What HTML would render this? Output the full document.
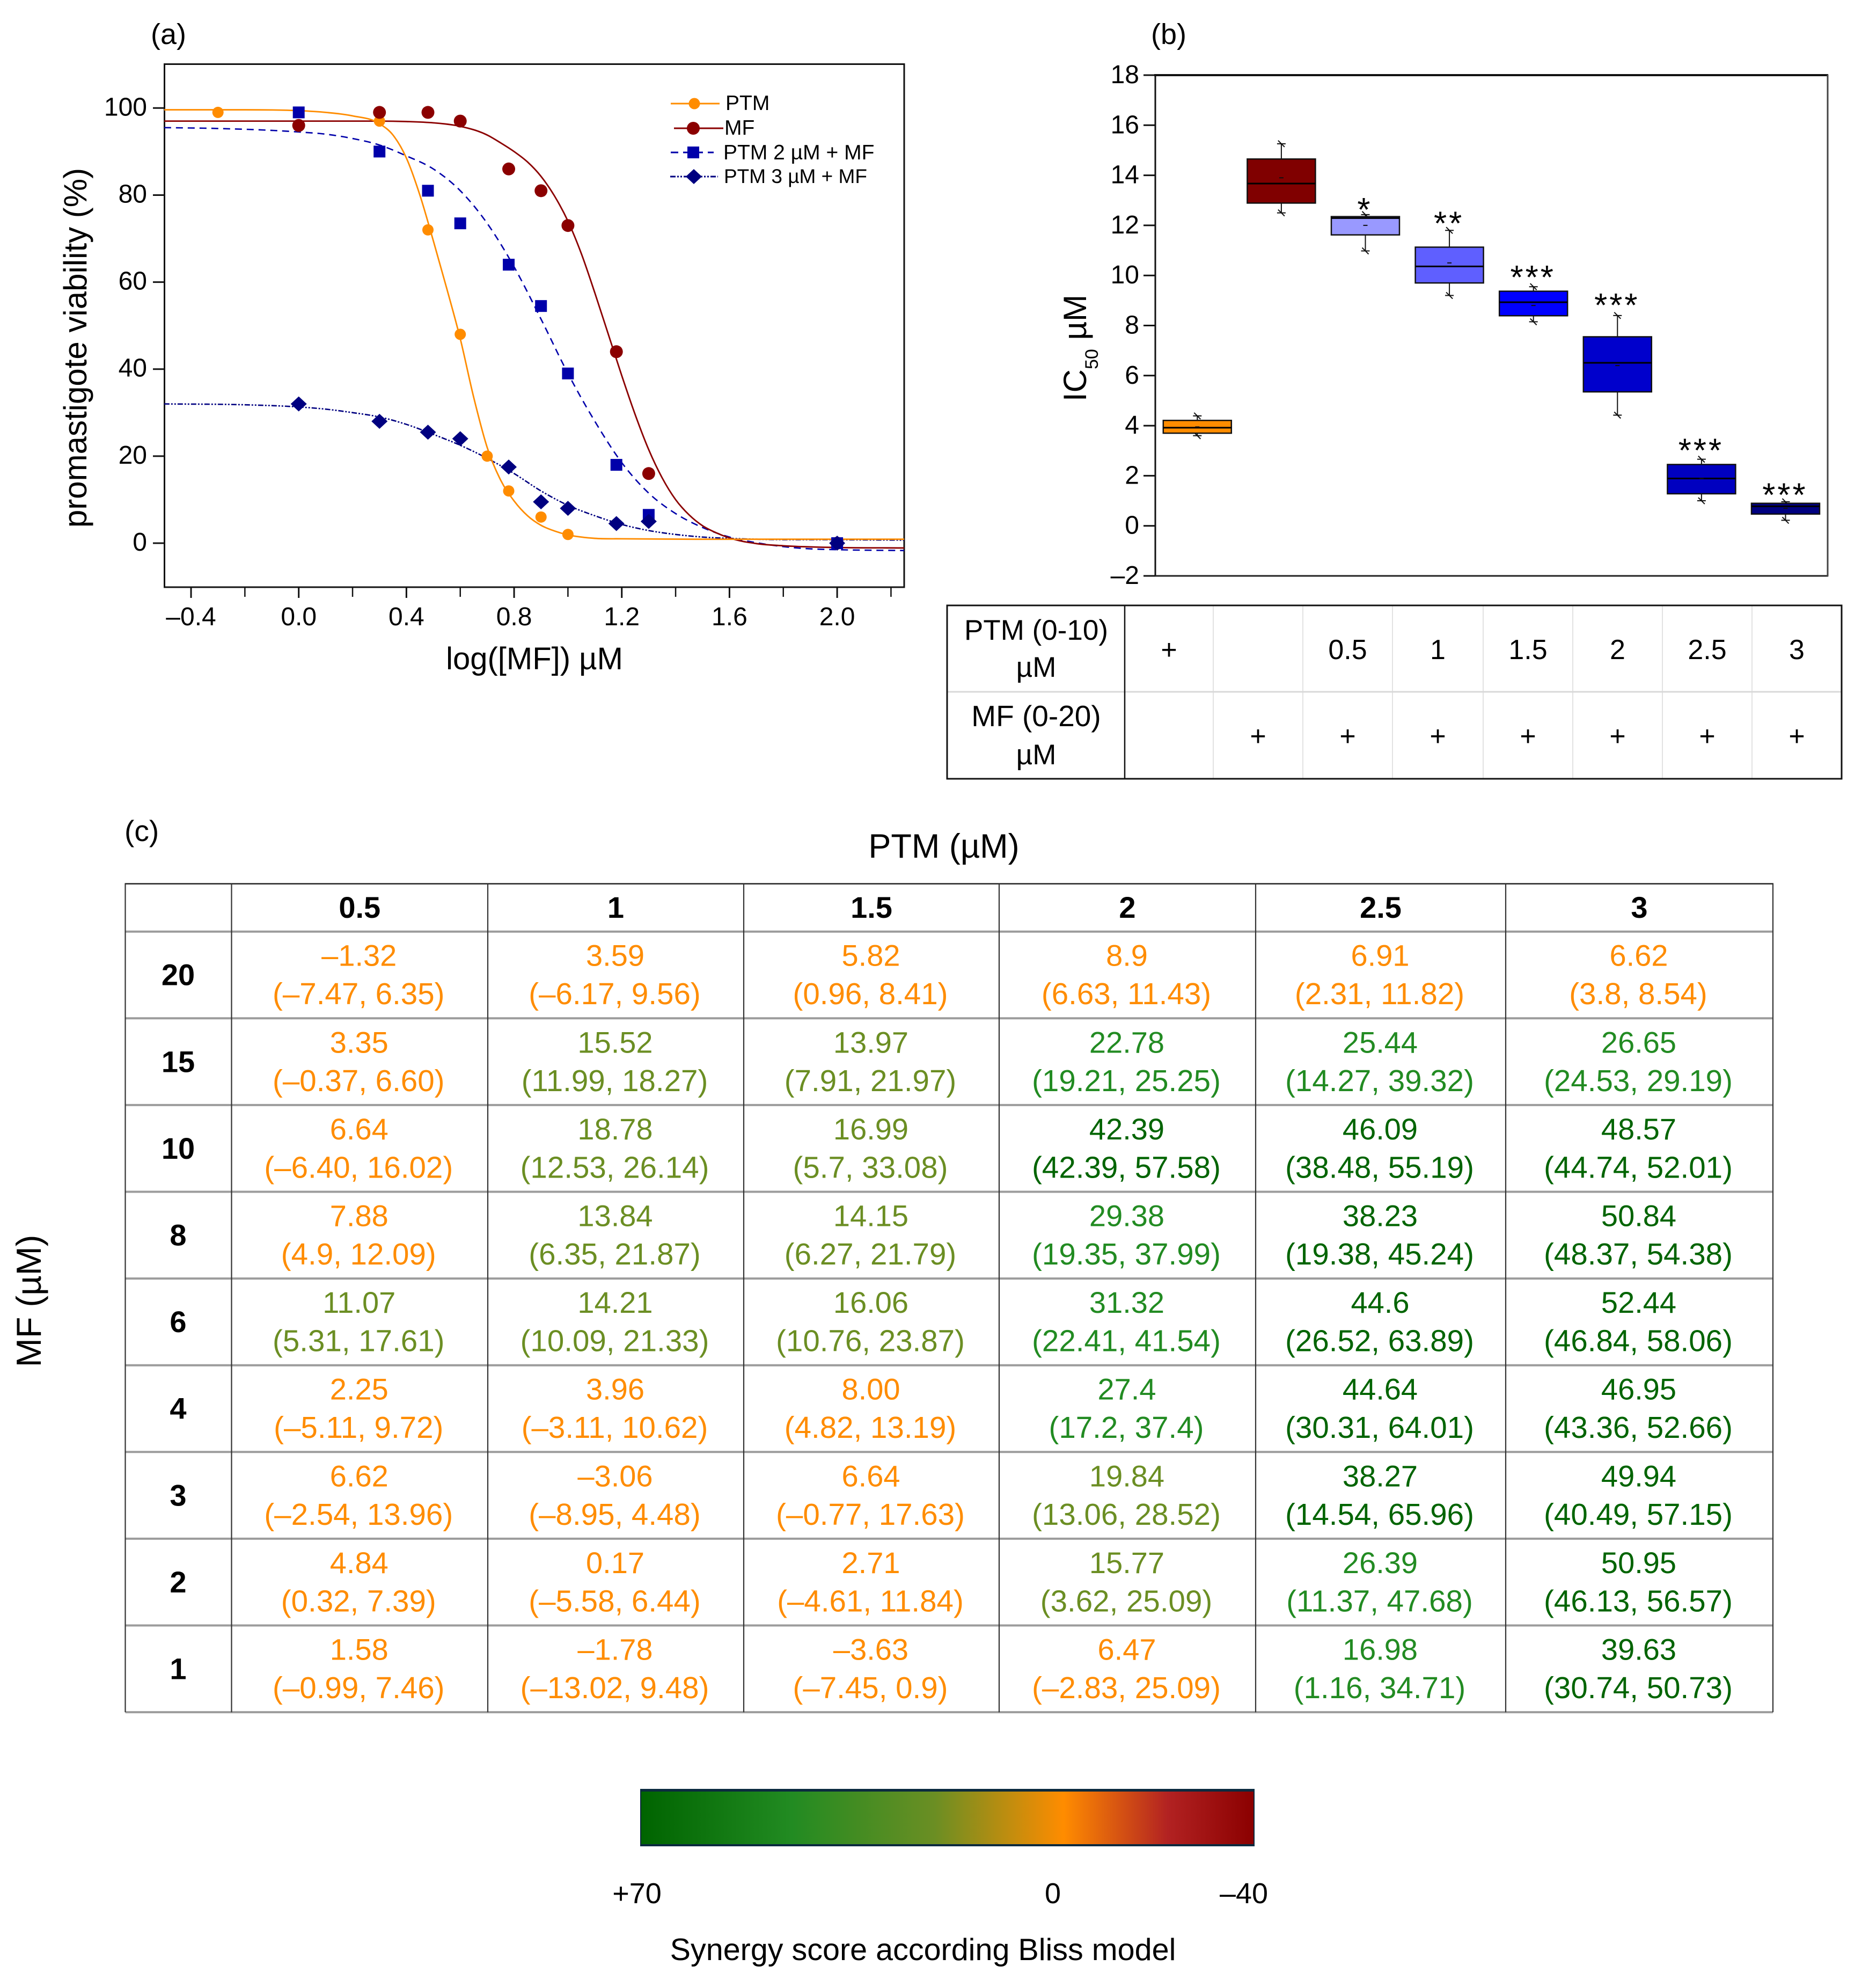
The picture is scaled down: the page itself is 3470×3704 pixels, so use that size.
<!DOCTYPE html>
<html lang="en">
<head>
<meta charset="utf-8">
<title>PTM and MF viability, IC50 and synergy</title>
<style>
html,body{margin:0;padding:0;background:#fff}
svg{display:block}
text{font-family:"Liberation Sans",Arial,sans-serif;fill:#000}
</style>
</head>
<body>
<svg id="fig" xmlns="http://www.w3.org/2000/svg" width="3470" height="3704" viewBox="0 0 3470 3704">
  <defs>
    <clipPath id="clip-a"><rect x="306" y="119" width="1379" height="975"/></clipPath>
    <linearGradient id="bliss-gradient" x1="0" x2="1" y1="0" y2="0">
      <stop offset="0" stop-color="#006400"/>
      <stop offset="0.246" stop-color="#228b22"/>
      <stop offset="0.48" stop-color="#6b8e23"/>
      <stop offset="0.69" stop-color="#ff8c00"/>
      <stop offset="0.86" stop-color="#b22222"/>
      <stop offset="1" stop-color="#8b0000"/>
    </linearGradient>
  </defs>
  <rect x="0" y="0" width="3470" height="3704" fill="#fff"/>

  <g id="panel-a">
    <text x="281" y="82" font-size="54">(a)</text>
    <rect x="306.5" y="119.5" width="1378.5" height="974.5" fill="none" stroke="#111" stroke-width="3"/>
    <text transform="translate(161,648) rotate(-90)" text-anchor="middle" font-size="60">promastigote viability (%)</text>
    <text x="996" y="1247" text-anchor="middle" font-size="58">log([MF]) µM</text>
    <g id="a-ticks"></g>
    <g id="a-curves" clip-path="url(#clip-a)"></g>
    <g id="a-points"></g>
    <g>
      <g>
        <line x1="1250" x2="1341" y1="193" y2="193" stroke="#ff8c00" stroke-width="3"/>
        <circle cx="1294" cy="193" r="10.5" fill="#ff8c00"/>
        <text x="1352" y="205" font-size="39">PTM</text>
      </g>
      <g>
        <line x1="1256" x2="1348" y1="239" y2="239" stroke="#8b0000" stroke-width="3"/>
        <circle cx="1292" cy="239" r="12" fill="#8b0000"/>
        <text x="1350" y="251" font-size="39">MF</text>
      </g>
      <g>
        <line x1="1250" x2="1330" y1="284" y2="284" stroke="#0000aa" stroke-width="3" stroke-dasharray="14 9"/>
        <rect x="1281" y="273" width="22" height="22" fill="#0000aa"/>
        <text x="1348" y="297" font-size="39">PTM 2 µM + MF</text>
      </g>
      <g>
        <line x1="1249" x2="1338" y1="329" y2="329" stroke="#000080" stroke-width="3" stroke-dasharray="10 3 3 3 3 3"/>
        <polygon points="1293,315 1308,329 1293,343 1278,329" fill="#000080"/>
        <text x="1349" y="341" font-size="37">PTM 3 µM + MF</text>
      </g>
    </g>
  </g>

  <g id="panel-b">
    <text x="2145" y="82" font-size="54">(b)</text>
    <line x1="2153" x2="2153" y1="139" y2="1074" stroke="#111" stroke-width="3"/>
    <line x1="2151" x2="3407" y1="140" y2="140" stroke="#111" stroke-width="4"/>
    <line x1="2151" x2="3407" y1="1073" y2="1073" stroke="#222" stroke-width="3"/>
    <line x1="3406" x2="3406" y1="139" y2="1074" stroke="#444" stroke-width="3"/>
    <text transform="translate(2024,748) rotate(-90)" font-size="60">IC<tspan font-size="34" dy="22">50</tspan><tspan dy="-22"> µM</tspan></text>
    <g id="b-ticks"></g>
    <g id="b-boxes"></g>
  </g>

  <g id="dose-table"></g>

  <g id="panel-c">
    <text x="232" y="1567" font-size="55">(c)</text>
    <text x="1759" y="1598" text-anchor="middle" font-size="63">PTM (µM)</text>
    <text transform="translate(76,2424) rotate(-90)" text-anchor="middle" font-size="65">MF (µM)</text>
    <g id="c-table"></g>
  </g>

  <g>
    <rect x="1193" y="3333" width="1145" height="107" fill="#0b2a3f"/>
    <rect x="1195" y="3338" width="1141" height="98" fill="url(#bliss-gradient)"/>
    <text x="1187" y="3546" text-anchor="middle" font-size="54">+70</text>
    <text x="1962" y="3546" text-anchor="middle" font-size="54">0</text>
    <text x="2318" y="3546" text-anchor="middle" font-size="54">–40</text>
    <text x="1720" y="3652" text-anchor="middle" font-size="57.5">Synergy score according Bliss model</text>
  </g>
</svg>

<script>
// ---------- Panel (a) data ----------
const aTickLabelsX = ['–0.4', '0.0', '0.4', '0.8', '1.2', '1.6', '2.0'];
const aTickValuesX = [-0.4, 0, 0.4, 0.8, 1.2, 1.6, 2.0];
const aMinorTicksX = [-0.2, 0.2, 0.6, 1.0, 1.4, 1.8, 2.2];
const aTickValuesY = [0, 20, 40, 60, 80, 100];

const ptmPointX = [-0.3, 0.3, 0.48, 0.6, 0.7, 0.78, 0.9, 1.0];
const ptmPointY = [99, 97, 72, 48, 20, 12, 6, 2];
const mfPointX = [0, 0.3, 0.48, 0.6, 0.78, 0.9, 1.0, 1.18, 1.3, 2.0];
const mfPointY = [96, 99, 99, 97, 86, 81, 73, 44, 16, 0];
const ptm2PointX = [0, 0.3, 0.48, 0.6, 0.78, 0.9, 1.0, 1.18, 1.3, 2.0];
const ptm2PointY = [99, 90, 81, 73.5, 64, 54.5, 39, 18, 6.5, 0];
const ptm3PointX = [0, 0.3, 0.48, 0.6, 0.78, 0.9, 1.0, 1.18, 1.3, 2.0];
const ptm3PointY = [32, 28, 25.5, 24, 17.5, 9.5, 8, 4.5, 5, 0];

const ptmCurveX = [-0.5, -0.2, 0, 0.1, 0.2, 0.3, 0.35, 0.4, 0.45, 0.5, 0.55, 0.6, 0.65, 0.7, 0.75, 0.8, 0.85, 0.9, 0.95, 1.0, 1.05, 1.1, 1.2, 1.5, 2.25];
const ptmCurveY = [99.6, 99.6, 99.4, 99, 98.2, 96.4, 93.8, 88.5, 80, 69.5, 58.5, 47, 33.5, 22, 14.5, 9.7, 6.3, 4.1, 2.8, 1.9, 1.4, 1.1, 1, 0.9, 0.9];
const mfCurveX = [-0.5, 0.3, 0.4, 0.5, 0.6, 0.7, 0.75, 0.8, 0.85, 0.9, 0.95, 1.0, 1.05, 1.1, 1.15, 1.2, 1.25, 1.3, 1.35, 1.4, 1.45, 1.5, 1.55, 1.6, 1.7, 1.8, 2.0, 2.25];
const mfCurveY = [97, 97, 96.9, 96.6, 95.8, 93.8, 92, 90, 87.6, 84.3, 79.8, 74, 66.5, 57.5, 48, 38.5, 29.5, 21.5, 15, 10, 6.5, 4, 2.4, 1.2, -0.1, -0.6, -1, -1.1];
const ptm2CurveX = [-0.5, -0.3, 0, 0.1, 0.2, 0.3, 0.4, 0.5, 0.6, 0.7, 0.8, 0.9, 1.0, 1.1, 1.2, 1.3, 1.4, 1.5, 1.6, 1.7, 1.8, 1.9, 2.0, 2.25];
const ptm2CurveY = [95.5, 95.3, 94.5, 94, 93, 91.5, 89, 86, 81, 73.5, 63.5, 51.5, 39, 28, 18.5, 11.5, 6.8, 3.6, 1.4, 0.1, -0.8, -1.3, -1.5, -1.7];
const ptm3CurveX = [-0.5, -0.2, 0, 0.1, 0.2, 0.3, 0.4, 0.5, 0.6, 0.7, 0.8, 0.9, 1.0, 1.1, 1.2, 1.3, 1.4, 1.5, 1.6, 1.7, 2.0, 2.25];
const ptm3CurveY = [32, 31.8, 31.3, 30.8, 30, 29, 27.3, 25, 22.5, 19.5, 16, 12, 8.7, 6.3, 4.3, 2.9, 2, 1.4, 1.1, 0.9, 0.8, 0.7];

// ---------- Panel (b) data ----------
const bTickValues = [-2, 0, 2, 4, 6, 8, 10, 12, 14, 16, 18];
const bTickLabels = ['–2', '0', '2', '4', '6', '8', '10', '12', '14', '16', '18'];
const boxNames = ['ptm', 'mf', 'ptm-0-5-mf', 'ptm-1-mf', 'ptm-1-5-mf', 'ptm-2-mf', 'ptm-2-5-mf', 'ptm-3-mf'];
const boxLow = [3.6, 12.5, 10.98, 9.2, 8.15, 4.42, 1.0, 0.22];
const boxQ1 = [3.7, 12.89, 11.62, 9.7, 8.39, 5.35, 1.28, 0.47];
const boxMedian = [3.92, 13.67, 12.29, 10.36, 8.93, 6.51, 1.89, 0.78];
const boxMean = [3.95, 13.9, 12.0, 10.5, 8.8, 6.4, 1.89, 0.7];
const boxQ3 = [4.21, 14.65, 12.35, 11.13, 9.37, 7.55, 2.45, 0.9];
const boxHigh = [4.39, 15.26, 12.43, 11.8, 9.55, 8.4, 2.66, 0.96];
const boxStars = ['', '', '*', '**', '***', '***', '***', '***'];
const boxStarLevel = [0, 0, 12.6, 12.05, 9.9, 8.78, 2.98, 1.2];

// ---------- Dose table data ----------
const ptmDoseRow = ['+', '', '0.5', '1', '1.5', '2', '2.5', '3'];
const mfDoseRow = ['', '+', '+', '+', '+', '+', '+', '+'];

// ---------- Panel (c) data ----------
const ptmColumns = ['0.5', '1', '1.5', '2', '2.5', '3'];
const mfRows = ['20', '15', '10', '8', '6', '4', '3', '2', '1'];
const synergyScores = [
  ['–1.32', '3.59', '5.82', '8.9', '6.91', '6.62'],
  ['3.35', '15.52', '13.97', '22.78', '25.44', '26.65'],
  ['6.64', '18.78', '16.99', '42.39', '46.09', '48.57'],
  ['7.88', '13.84', '14.15', '29.38', '38.23', '50.84'],
  ['11.07', '14.21', '16.06', '31.32', '44.6', '52.44'],
  ['2.25', '3.96', '8.00', '27.4', '44.64', '46.95'],
  ['6.62', '–3.06', '6.64', '19.84', '38.27', '49.94'],
  ['4.84', '0.17', '2.71', '15.77', '26.39', '50.95'],
  ['1.58', '–1.78', '–3.63', '6.47', '16.98', '39.63']
];
const synergyRanges = [
  ['(–7.47, 6.35)', '(–6.17, 9.56)', '(0.96, 8.41)', '(6.63, 11.43)', '(2.31, 11.82)', '(3.8, 8.54)'],
  ['(–0.37, 6.60)', '(11.99, 18.27)', '(7.91, 21.97)', '(19.21, 25.25)', '(14.27, 39.32)', '(24.53, 29.19)'],
  ['(–6.40, 16.02)', '(12.53, 26.14)', '(5.7, 33.08)', '(42.39, 57.58)', '(38.48, 55.19)', '(44.74, 52.01)'],
  ['(4.9, 12.09)', '(6.35, 21.87)', '(6.27, 21.79)', '(19.35, 37.99)', '(19.38, 45.24)', '(48.37, 54.38)'],
  ['(5.31, 17.61)', '(10.09, 21.33)', '(10.76, 23.87)', '(22.41, 41.54)', '(26.52, 63.89)', '(46.84, 58.06)'],
  ['(–5.11, 9.72)', '(–3.11, 10.62)', '(4.82, 13.19)', '(17.2, 37.4)', '(30.31, 64.01)', '(43.36, 52.66)'],
  ['(–2.54, 13.96)', '(–8.95, 4.48)', '(–0.77, 17.63)', '(13.06, 28.52)', '(14.54, 65.96)', '(40.49, 57.15)'],
  ['(0.32, 7.39)', '(–5.58, 6.44)', '(–4.61, 11.84)', '(3.62, 25.09)', '(11.37, 47.68)', '(46.13, 56.57)'],
  ['(–0.99, 7.46)', '(–13.02, 9.48)', '(–7.45, 0.9)', '(–2.83, 25.09)', '(1.16, 34.71)', '(30.74, 50.73)']
];
const synergyLevels = [
  [0, 0, 0, 0, 0, 0],
  [0, 1, 1, 2, 2, 2],
  [0, 1, 1, 3, 3, 3],
  [0, 1, 1, 2, 3, 3],
  [1, 1, 1, 2, 3, 3],
  [0, 0, 0, 2, 3, 3],
  [0, 0, 0, 1, 3, 3],
  [0, 0, 0, 1, 2, 3],
  [0, 0, 0, 0, 2, 3]
];

// ---------- Scales and helpers ----------
const NS = 'http://www.w3.org/2000/svg';
function xA(v) { return 556.7 + v * 501.7; }
function yA(v) { return 1012 - v * 8.107; }
function xB(i) { return 2153 + (i + 0.5) * 156.6; }
function yB(v) { return 979.7 - v * 46.65; }
const levelColors = ['#ff8c00', '#6b8e23', '#228b22', '#006400'];
const boxColors = ['#ff8c00', '#800000', '#9999ff', '#5f5fff', '#0000ff', '#0000cc', '#0000c0', '#000080'];

function mk(tag, attrs, parent, txt) {
  const el = document.createElementNS(NS, tag);
  for (const k in attrs) el.setAttribute(k, attrs[k]);
  if (txt !== undefined) el.textContent = txt;
  parent.appendChild(el);
  return el;
}
// monotone cubic through sampled points
function smoothPath(xs, ys, fx, fy) {
  const px = xs.map(fx), py = ys.map(fy), n = px.length;
  const s = [], m = [];
  for (let i = 0; i < n - 1; i++) s.push((py[i + 1] - py[i]) / (px[i + 1] - px[i]));
  m.push(s[0]);
  for (let i = 1; i < n - 1; i++) {
    const h0 = px[i] - px[i - 1], h1 = px[i + 1] - px[i];
    m.push(s[i - 1] * s[i] <= 0 ? 0 : (s[i - 1] * h1 + s[i] * h0) / (h0 + h1));
  }
  m.push(s[n - 2]);
  let d = 'M' + px[0].toFixed(2) + ' ' + py[0].toFixed(2);
  for (let i = 0; i < n - 1; i++) {
    const h = (px[i + 1] - px[i]) / 3;
    d += 'C' + (px[i] + h).toFixed(2) + ' ' + (py[i] + m[i] * h).toFixed(2) + ' ' +
      (px[i + 1] - h).toFixed(2) + ' ' + (py[i + 1] - m[i + 1] * h).toFixed(2) + ' ' +
      px[i + 1].toFixed(2) + ' ' + py[i + 1].toFixed(2);
  }
  return d;
}

// ---------- Draw panel (a) ----------
const aTicks = document.getElementById('a-ticks');
aTickValuesX.forEach(function (v, i) {
  const t = mk('line', { x1: xA(v), x2: xA(v), y1: 1094, y2: 1114, stroke: '#111', 'stroke-width': 3 }, aTicks);
  
  
  const l = mk('text', { x: xA(v), y: 1165, 'text-anchor': 'middle', 'font-size': 48 }, aTicks, aTickLabelsX[i]);
  
  
});
aMinorTicksX.forEach(function (v) {
  const t = mk('line', { x1: xA(v), x2: xA(v), y1: 1094, y2: 1112, stroke: '#111', 'stroke-width': 2.5 }, aTicks);
  
  
});
aTickValuesY.forEach(function (v) {
  const t = mk('line', { x1: 285, x2: 306, y1: yA(v), y2: yA(v), stroke: '#111', 'stroke-width': 3 }, aTicks);
  
  
  const l = mk('text', { x: 274, y: yA(v) + 14, 'text-anchor': 'end', 'font-size': 48 }, aTicks, String(v));
  
  
});

const aCurves = document.getElementById('a-curves');
const curvePtm3 = mk('path', { d: smoothPath(ptm3CurveX, ptm3CurveY, xA, yA), fill: 'none', stroke: '#000080', 'stroke-width': 2.6, 'stroke-dasharray': '10 3 3 3 3 3' }, aCurves);


const curvePtm2 = mk('path', { d: smoothPath(ptm2CurveX, ptm2CurveY, xA, yA), fill: 'none', stroke: '#0000aa', 'stroke-width': 2.6, 'stroke-dasharray': '13 9' }, aCurves);


const curveMf = mk('path', { d: smoothPath(mfCurveX, mfCurveY, xA, yA), fill: 'none', stroke: '#8b0000', 'stroke-width': 2.8 }, aCurves);


const curvePtm = mk('path', { d: smoothPath(ptmCurveX, ptmCurveY, xA, yA), fill: 'none', stroke: '#ff8c00', 'stroke-width': 2.8 }, aCurves);



const aPoints = document.getElementById('a-points');
ptmPointX.forEach(function (x, i) {
  const p = mk('circle', { cx: xA(x), cy: yA(ptmPointY[i]), r: 10.5, fill: '#ff8c00' }, aPoints);
  
  
});
mfPointX.forEach(function (x, i) {
  const p = mk('circle', { cx: xA(x), cy: yA(mfPointY[i]), r: 12, fill: '#8b0000' }, aPoints);
  
  
});
ptm2PointX.forEach(function (x, i) {
  const p = mk('rect', { x: xA(x) - 11, y: yA(ptm2PointY[i]) - 11, width: 22, height: 22, fill: '#0000aa' }, aPoints);
  
  
});
ptm3PointX.forEach(function (x, i) {
  const cx = xA(x), cy = yA(ptm3PointY[i]);
  const p = mk('polygon', { points: cx + ',' + (cy - 14) + ' ' + (cx + 15) + ',' + cy + ' ' + cx + ',' + (cy + 14) + ' ' + (cx - 15) + ',' + cy, fill: '#000080' }, aPoints);
  
  
});

// ---------- Draw panel (b) ----------
const bTicks = document.getElementById('b-ticks');
bTickValues.forEach(function (v, i) {
  const t = mk('line', { x1: 2131, x2: 2153, y1: yB(v), y2: yB(v), stroke: '#111', 'stroke-width': 3 }, bTicks);
  
  
  const l = mk('text', { x: 2123, y: yB(v) + 15, 'text-anchor': 'end', 'font-size': 48 }, bTicks, bTickLabels[i]);
  
  
});

const bBoxes = document.getElementById('b-boxes');
boxNames.forEach(function (name, i) {
  const cx = xB(i), half = 63.5;
  const g = mk('g', {}, bBoxes);
  
  
  const w = mk('line', { x1: cx, x2: cx, y1: yB(boxLow[i]), y2: yB(boxHigh[i]), stroke: '#111', 'stroke-width': 2 }, g);
  
  
  [boxLow[i], boxHigh[i]].forEach(function (v) {
    const c = mk('path', { d: 'M' + (cx - 8) + ' ' + yB(v) + 'H' + (cx + 8) + 'M' + (cx - 6) + ' ' + (yB(v) - 6) + 'L' + (cx + 6) + ' ' + (yB(v) + 6), stroke: '#111', 'stroke-width': 2, fill: 'none' }, g);
    
    
  });
  const r = mk('rect', { x: cx - half, y: yB(boxQ3[i]), width: half * 2, height: yB(boxQ1[i]) - yB(boxQ3[i]), fill: boxColors[i], stroke: '#111', 'stroke-width': 2.5 }, g);
  
  
  const md = mk('line', { x1: cx - half, x2: cx + half, y1: yB(boxMedian[i]), y2: yB(boxMedian[i]), stroke: '#000', 'stroke-width': 3 }, g);
  
  
  const mn = mk('line', { x1: cx - 4, x2: cx + 4, y1: yB(boxMean[i]), y2: yB(boxMean[i]), stroke: '#111', 'stroke-width': 2 }, g);
  
  
  if (boxStars[i]) {
    const s = mk('text', { x: cx - 1, y: yB(boxStarLevel[i]) + 20, 'text-anchor': 'middle', 'font-size': 62, 'letter-spacing': 4 }, g, boxStars[i]);
    
    
  }
});

// ---------- Dose table ----------
const doseTable = document.getElementById('dose-table');
const doseCols = [2096, 2261, 2428, 2595, 2764, 2931, 3098, 3265, 3432];
doseCols.slice(1, -1).forEach(function (x) {
  const l = mk('line', { x1: x, x2: x, y1: 1128, y2: 1451, stroke: '#e2e2e2', 'stroke-width': 2 }, doseTable);
  
  
});
const doseRowLine = mk('line', { x1: 1765, x2: 3432, y1: 1289, y2: 1289, stroke: '#d8d8d8', 'stroke-width': 3 }, doseTable);


const doseFrame = mk('rect', { x: 1765, y: 1128, width: 1667, height: 323, fill: 'none', stroke: '#111', 'stroke-width': 3 }, doseTable);


const doseHeadLine = mk('line', { x1: 2096, x2: 2096, y1: 1128, y2: 1451, stroke: '#111', 'stroke-width': 2.5 }, doseTable);


const doseLab1 = mk('text', { x: 1931, y: 1192, 'text-anchor': 'middle', 'font-size': 53 }, doseTable, 'PTM (0-10)');


const doseLab2 = mk('text', { x: 1931, y: 1261, 'text-anchor': 'middle', 'font-size': 53 }, doseTable, 'µM');


const doseLab3 = mk('text', { x: 1931, y: 1353, 'text-anchor': 'middle', 'font-size': 55 }, doseTable, 'MF (0-20)');


const doseLab4 = mk('text', { x: 1931, y: 1424, 'text-anchor': 'middle', 'font-size': 53 }, doseTable, 'µM');


ptmDoseRow.forEach(function (v, i) {
  const cx = (doseCols[i] + doseCols[i + 1]) / 2;
  if (v) {
    const t = mk('text', { x: cx, y: 1228, 'text-anchor': 'middle', 'font-size': 52 }, doseTable, v);
    
    
  }
  if (mfDoseRow[i]) {
    const t2 = mk('text', { x: cx, y: 1389, 'text-anchor': 'middle', 'font-size': 52 }, doseTable, mfDoseRow[i]);
    
    
  }
});

// ---------- Synergy table ----------
const cTable = document.getElementById('c-table');
const cCols = [233.5, 431.5, 909, 1386, 1862, 2340, 2806, 3304];
const cTop = 1646.6, cHead = 1735.7, cRowH = 161.6;
const cBottom = cHead + cRowH * mfRows.length;
for (let r = 0; r <= mfRows.length; r++) {
  const y = cHead + r * cRowH;
  const l = mk('line', { x1: cCols[0], x2: cCols[7], y1: y, y2: y, stroke: '#9c9c9c', 'stroke-width': 4 }, cTable);
  
  
}
const cTopLine = mk('line', { x1: cCols[0] - 1, x2: cCols[7] + 1, y1: cTop, y2: cTop, stroke: '#222', 'stroke-width': 2.5 }, cTable);


cCols.forEach(function (x) {
  const l = mk('line', { x1: x, x2: x, y1: cTop, y2: cBottom, stroke: '#333', 'stroke-width': 2.2 }, cTable);
  
  
});
ptmColumns.forEach(function (c, j) {
  const h = mk('text', { x: (cCols[j + 1] + cCols[j + 2]) / 2, y: 1710, 'text-anchor': 'middle', 'font-size': 56, 'font-weight': 'bold' }, cTable, c);
  
  
});
mfRows.forEach(function (m, i) {
  const top = cHead + i * cRowH;
  const h = mk('text', { x: 332, y: top + 100, 'text-anchor': 'middle', 'font-size': 56, 'font-weight': 'bold' }, cTable, m);
  
  
  ptmColumns.forEach(function (c, j) {
    const cx = (cCols[j + 1] + cCols[j + 2]) / 2;
    const col = levelColors[synergyLevels[i][j]];
    const a = mk('text', { x: cx - 1, y: top + 64, 'text-anchor': 'middle', 'font-size': 56, style: 'fill:' + col }, cTable, synergyScores[i][j]);
    
    
    const b = mk('text', { x: cx - 2, y: top + 135.5, 'text-anchor': 'middle', 'font-size': 56.5, style: 'fill:' + col }, cTable, synergyRanges[i][j]);
    
    
  });
});
</script>
</body>
</html>
